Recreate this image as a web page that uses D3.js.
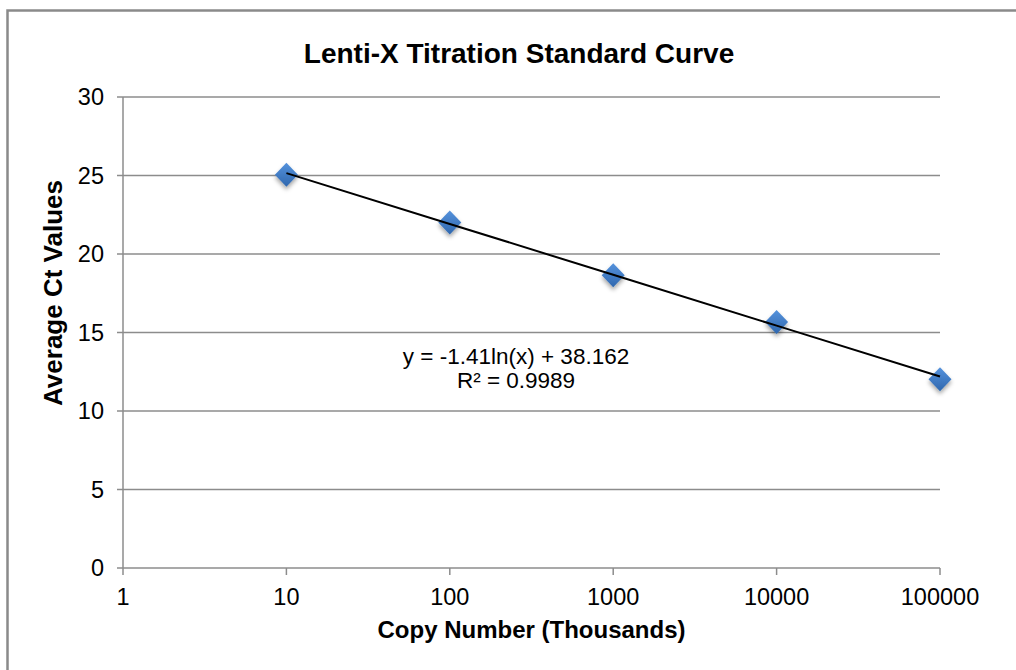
<!DOCTYPE html>
<html>
<head>
<meta charset="utf-8">
<script src="https://cdn.jsdelivr.net/npm/d3@7"></script>
<style>
  body { margin: 0; background: #fff; }
  text { font-family: "Liberation Sans", Arial, sans-serif; }
</style>
</head>
<body>
<script>
// Data
const copyNumbers = [10, 100, 1000, 10000, 100000];
const ctValues = [25.05, 22.0, 18.64, 15.67, 12.02];
const xTicks = [1, 10, 100, 1000, 10000, 100000];
const yTicks = [0, 5, 10, 15, 20, 25, 30];
const equationLines = ["y = -1.41ln(x) + 38.162", "R\u00b2 = 0.9989"];

let width = 1016,
    height = 670;

let margin = { top: 97, bottom: 102, left: 123, right: 76 };

let svg = d3.select('body')
    .append('svg')
    .attr('width', width)
    .attr('height', height);

// outer chart frame (runs off the right and bottom edge)
svg.append('rect')
    .attr('x', 7.5)
    .attr('y', 10.5)
    .attr('width', 1100)
    .attr('height', 800)
    .attr('fill', 'none')
    .attr('stroke', '#8a8a8a')
    .attr('stroke-width', 2.5);

let xscale = d3.scaleLog()
    .domain([1, 100000])
    .range([margin.left, width - margin.right]);

let yscale = d3.scaleLinear()
    .domain([0, 30])
    .range([height - margin.bottom, margin.top]);

const gridColor = '#8c8c8c';

// horizontal gridlines
svg.append('g')
    .selectAll('line')
    .data(yTicks)
    .enter().append('line')
    .attr('x1', margin.left - 6)
    .attr('x2', width - margin.right)
    .attr('y1', d => yscale(d))
    .attr('y2', d => yscale(d))
    .attr('stroke', gridColor)
    .attr('stroke-width', 1.5);

// y axis line
svg.append('line')
    .attr('x1', margin.left).attr('x2', margin.left)
    .attr('y1', yscale(30)).attr('y2', yscale(0))
    .attr('stroke', gridColor)
    .attr('stroke-width', 1.5);

// x axis ticks
svg.append('g')
    .selectAll('line')
    .data(xTicks)
    .enter().append('line')
    .attr('x1', d => xscale(d))
    .attr('x2', d => xscale(d))
    .attr('y1', yscale(0))
    .attr('y2', yscale(0) + 7)
    .attr('stroke', gridColor)
    .attr('stroke-width', 1.5);

// tick labels
svg.append('g')
    .selectAll('text')
    .data(yTicks)
    .enter().append('text')
    .attr('x', margin.left - 19)
    .attr('y', d => yscale(d) + 8)
    .attr('text-anchor', 'end')
    .style('font-size', '23.5px')
    .text(d => d);

svg.append('g')
    .selectAll('text')
    .data(xTicks)
    .enter().append('text')
    .attr('x', d => xscale(d))
    .attr('y', yscale(0) + 37)
    .attr('text-anchor', 'middle')
    .style('font-size', '23.5px')
    .text(d => d);

// title and axis titles
svg.append('text')
    .attr('x', 519)
    .attr('y', 63)
    .attr('text-anchor', 'middle')
    .style('font-size', '28px')
    .style('font-weight', 'bold')
    .text('Lenti-X Titration Standard Curve');

svg.append('text')
    .attr('x', (margin.left + width - margin.right) / 2)
    .attr('y', 638)
    .attr('text-anchor', 'middle')
    .style('font-size', '24px')
    .style('font-weight', 'bold')
    .text('Copy Number (Thousands)');

svg.append('text')
    .attr('transform', 'translate(62, 293) rotate(-90)')
    .attr('text-anchor', 'middle')
    .style('font-size', '26px')
    .style('font-weight', 'bold')
    .text('Average Ct Values');

// logarithmic trendline fitted to the points
const lx = copyNumbers.map(d => Math.log(d));
const mx = d3.mean(lx), my = d3.mean(ctValues);
const slope = d3.sum(lx, (v, i) => (v - mx) * (ctValues[i] - my)) / d3.sum(lx, v => (v - mx) * (v - mx));
const intercept = my - slope * mx;
const fit = x => intercept + slope * Math.log(x);

// markers
const defs = svg.append('defs');
const grad = defs.append('linearGradient')
    .attr('id', 'mk').attr('x1', 0).attr('y1', 0).attr('x2', 0).attr('y2', 1);
grad.append('stop').attr('offset', '0%').attr('stop-color', '#5592dc');
grad.append('stop').attr('offset', '100%').attr('stop-color', '#2f67ae');
const shadow = defs.append('filter').attr('id', 'sh')
    .attr('x', '-50%').attr('y', '-50%').attr('width', '200%').attr('height', '200%');
shadow.append('feDropShadow')
    .attr('dx', 0).attr('dy', 3).attr('stdDeviation', 2)
    .attr('flood-color', '#000').attr('flood-opacity', 0.35);

svg.append('g')
    .selectAll('path')
    .data(copyNumbers)
    .enter().append('path')
    .attr('transform', (d, i) => `translate(${xscale(d)},${yscale(ctValues[i])})`)
    .attr('d', 'M0,-12L11.5,0L0,12L-11.5,0Z')
    .attr('fill', 'url(#mk)')
    .attr('filter', 'url(#sh)');

svg.append('path')
    .datum(copyNumbers)
    .attr('d', d3.line().x(d => xscale(d)).y(d => yscale(fit(d))))
    .attr('fill', 'none')
    .attr('stroke', '#000')
    .attr('stroke-width', 2);

// equation label
svg.append('g')
    .selectAll('text')
    .data(equationLines)
    .enter().append('text')
    .attr('x', 516)
    .attr('y', (d, i) => 364 + i * 24)
    .attr('text-anchor', 'middle')
    .style('font-size', '22.5px')
    .text(d => d);
</script>
</body>
</html>
